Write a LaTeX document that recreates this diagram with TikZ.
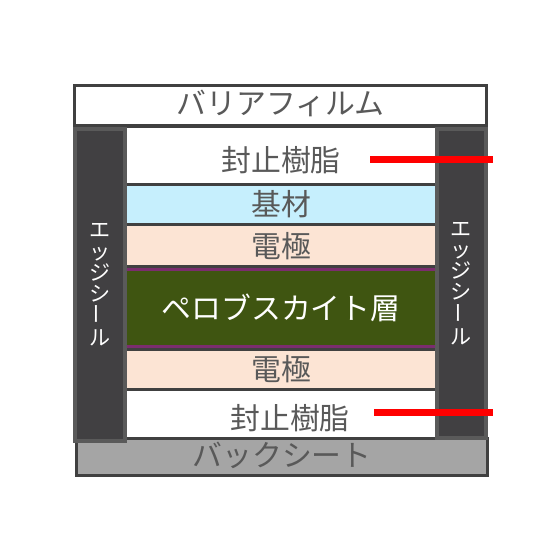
\documentclass[tikz,border=0pt]{standalone}
\usepackage{fontspec}
\setmainfont{Noto Sans CJK JP}
\definecolor{rim}{HTML}{404040}
\definecolor{txt}{HTML}{595959}
\definecolor{sealgray}{HTML}{414042}
\definecolor{sealrim}{HTML}{5A5A5A}
\definecolor{kizai}{HTML}{C6EFFD}
\definecolor{denkyoku}{HTML}{FCE4D4}
\definecolor{perov}{HTML}{3F5511}
\definecolor{perovrim}{HTML}{7B2D6E}
\definecolor{backgray}{HTML}{A5A5A5}

\begin{document}
\begin{tikzpicture}
	[x=0.02cm,y=-0.02cm,
	every node/.style={rectangle,draw=rim,line width=0.06cm,inner sep=0pt,text=txt,font=\fontsize{17}{20}\selectfont},
	layer/.style={minimum width=6.44cm},
	seal/.style={fill=sealgray,draw=sealrim,line width=0.08cm,text=white,align=center,font=\fontsize{12}{12}\selectfont},
	redline/.style={red,line width=0.14cm}]
	\useasboundingbox (0,0) rectangle (560,560);
	\node (back) [fill=backgray,minimum width=8.22cm,minimum height=0.74cm] at (282,457) {};
	\node (backtxt) [draw=none] at (282,455) {バックシート};
	\node (resin2) [layer,fill=white,minimum height=0.98cm] at (281,414) {};
	\node (resin2txt) [draw=none] at (290,418) {封止樹脂};
	\node (elec2) [layer,fill=denkyoku,minimum height=0.81cm] at (281,369.25) {電極};
	\node (elec1) [layer,fill=denkyoku,minimum height=0.85cm] at (281,245.75) {電極};
	\node (perov) [layer,fill=perov,draw=perovrim,text=white,minimum height=1.54cm] at (281,308) {ペロブスカイト層};
	\node (kizai) [layer,fill=kizai,minimum height=0.8cm] at (281,204.5) {基材};
	\node (resin1) [layer,fill=white,minimum height=1.17cm] at (281,155.25) {};
	\node (resin1txt) [draw=none] at (281,160) {封止樹脂};
	\node (sealL) [seal,minimum width=1cm,minimum height=6.24cm] at (100,285) {エ\\ッ\\ジ\\シ\\\rotatebox{90}{ー}\\ル};
	\node (sealR) [seal,minimum width=0.98cm,minimum height=6.18cm] at (461.5,283.5) {エ\\ッ\\ジ\\シ\\\rotatebox{90}{ー}\\ル};
	\node (barrier) [fill=white,minimum width=8.24cm,minimum height=0.81cm] at (280.5,105.75) {};
	\node (barriertxt) [draw=none] at (280.5,103) {バリアフィルム};
	\coordinate (r1a) at (370,160);
	\coordinate (r1b) at (493,160);
	\coordinate (r2a) at (374,412);
	\coordinate (r2b) at (493,412);
	\draw [redline] (r1a) -- (r1b);
	\draw [redline] (r2a) -- (r2b);
\end{tikzpicture}
\end{document}
